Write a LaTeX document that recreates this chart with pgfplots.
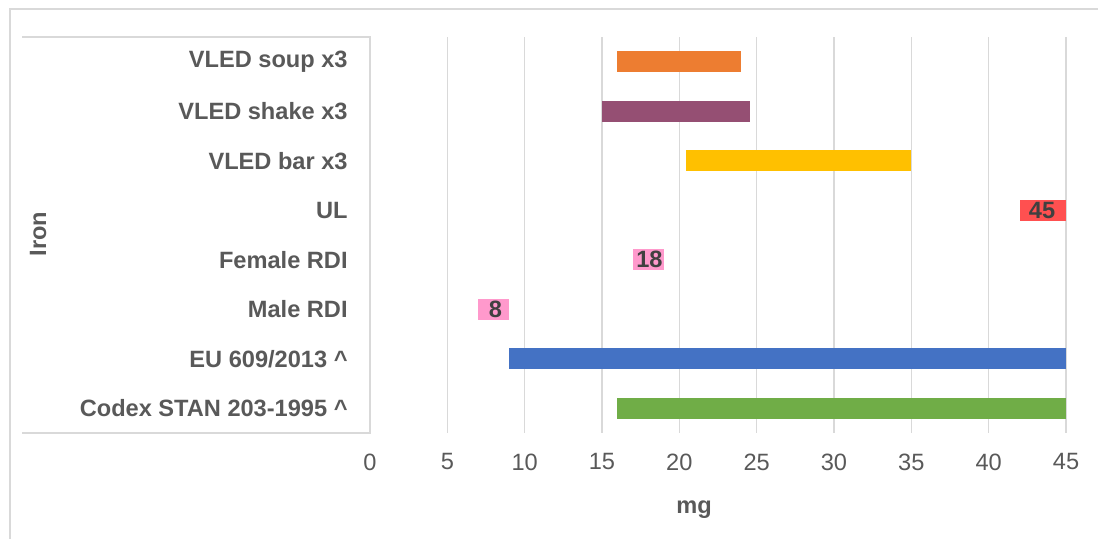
\documentclass[border=0pt]{standalone}
\usepackage{pgfplots}
\pgfplotsset{compat=1.18}
\usepackage{pgfplotstable}
\usepackage{fontspec}
\setmainfont{Liberation Sans}
\definecolor{txt}{HTML}{595959}
\definecolor{lbl}{HTML}{404040}
\definecolor{gridc}{HTML}{D9D9D9}
\definecolor{cSoup}{HTML}{ED7D31}
\definecolor{cShake}{HTML}{954F73}
\definecolor{cBar}{HTML}{FFC000}
\definecolor{cUL}{HTML}{FF5050}
\definecolor{cPink}{HTML}{FF99CC}
\definecolor{cEU}{HTML}{4472C4}
\definecolor{cCodex}{HTML}{70AD47}
\pgfplotstableread{
y start soup shake bar eu codex
0 16   0 0   0    0  29
1 9    0 0   0    36 0
2 7    0 0   0    0  0
3 17   0 0   0    0  0
4 42   0 0   0    0  0
5 20.4 0 0   14.6 0  0
6 15   0 9.6 0    0  0
7 16   8 0   0    0  0
}\data
\newcommand{\fs}{\fontsize{11.8}{13}\selectfont}
\begin{document}
\begin{tikzpicture}
\useasboundingbox (0,0) rectangle (549pt,269.5pt);
\begin{scope}
\clip (0,0) rectangle (549pt,269.5pt);
\draw[gridc, line width=0.75pt] (5pt,-10pt) -- (5pt,265pt) -- (560pt,265pt);
\end{scope}
\begin{axis}[
  at={(185pt,53pt)}, anchor=south west,
  scale only axis, width=348pt, height=198pt,
  xmin=0, xmax=45, ymin=-0.5, ymax=7.5,
  xbar stacked, bar width=10.3pt,
  axis line style={draw=none},
  xtick={0,5,...,45},
  ytick={0,...,7},
  yticklabels={Codex STAN 203-1995 \^{},EU 609/2013 \^{},Male RDI,Female RDI,UL,VLED bar x3,VLED shake x3,VLED soup x3},
  major tick length=0pt,
  xmajorgrids, ymajorgrids=false, major grid style={draw=gridc, line width=0.75pt},
  /pgf/number format/assume math mode=true,
  xticklabel style={font=\fs, text=txt, anchor=center, inner sep=0pt, yshift=-14.5pt},
  yticklabel style={font=\fs\bfseries, text=txt, anchor=east, inner sep=0pt, xshift=-11pt},
  nodes near coords style={font=\fs\bfseries, text=lbl, anchor=center, inner sep=0pt},
]
\addplot[draw=none, fill=none] table[x=start, y=y] \data;
\addplot[draw=none, fill=cCodex] table[x=codex, y=y] \data;
\addplot[draw=none, fill=cEU] table[x=eu, y=y] \data;
\addplot[draw=none, fill=cPink, point meta=explicit symbolic, nodes near coords, nodes near coords style={xshift=0.85pt}] coordinates {(0,0)[] (0,1)[] (2,2)[8] (0,3)[] (0,4)[] (0,5)[] (0,6)[] (0,7)[]};
\addplot[draw=none, fill=cPink, point meta=explicit symbolic, nodes near coords, nodes near coords style={xshift=0.5pt}] coordinates {(0,0)[] (0,1)[] (0,2)[] (2,3)[18] (0,4)[] (0,5)[] (0,6)[] (0,7)[]};
\addplot[draw=none, fill=cUL, point meta=explicit symbolic, nodes near coords, nodes near coords style={xshift=-0.4pt}] coordinates {(0,0)[] (0,1)[] (0,2)[] (0,3)[] (3,4)[45] (0,5)[] (0,6)[] (0,7)[]};
\addplot[draw=none, fill=cBar] table[x=bar, y=y] \data;
\addplot[draw=none, fill=cShake] table[x=shake, y=y] \data;
\addplot[draw=none, fill=cSoup] table[x=soup, y=y] \data;
\end{axis}
\draw[gridc, line width=0.75pt] (11pt,251pt) -- (185pt,251pt) -- (185pt,53pt) -- (11pt,53pt);
\node[rotate=90, font=\fs\bfseries, text=txt] at (19pt,152.5pt) {Iron};
\node[font=\fs\bfseries, text=txt] at (347pt,14.5pt) {mg};
\end{tikzpicture}
\end{document}
